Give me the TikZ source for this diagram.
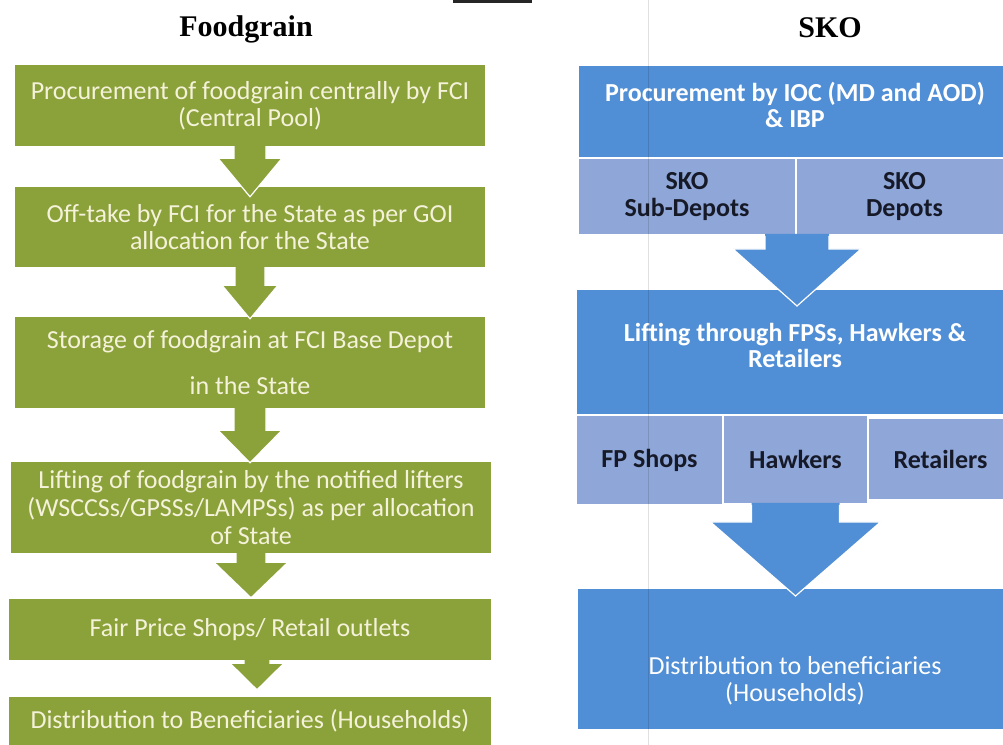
\documentclass[tikz,border=0pt]{standalone}
\usepackage{fontspec}
\setmainfont{Carlito}
\newfontfamily\headfont{Liberation Serif}
\usetikzlibrary{calc}

% block arrow from a point down to the top of a node
\newcommand{\blockarrow}[7]{%
  \fill[#1] ($(#2)+(-#4,2bp)$) -- ($(#2)+(-#4,-#5)$) -- ($(#2)+(-#6,-#5)$)
    -- ($(#2 |- #3.north)+(0bp,#7)$) -- ($(#2)+(#6,-#5)$) -- ($(#2)+(#4,-#5)$)
    -- ($(#2)+(#4,2bp)$) -- cycle;
  \draw[white,line width=1.2bp] ($(#2)+(-#4,0bp)$) -- ($(#2)+(-#4,-#5)$) -- ($(#2)+(-#6,-#5)$)
    -- ($(#2 |- #3.north)+(0bp,#7)$) -- ($(#2)+(#6,-#5)$) -- ($(#2)+(#4,-#5)$)
    -- ($(#2)+(#4,0bp)$);}

\begin{document}
\begin{tikzpicture}[line join=miter,
  grainbox/.style={fill=grainfill,rectangle,align=center,inner sep=0pt,text=graintext,font=\fontsize{26bp}{27bp}\selectfont},
  skobox/.style={draw=white,line width=2bp,fill=skofill,rectangle,inner sep=0pt},
  skosubbox/.style={draw=white,line width=2bp,fill=skosubfill,rectangle,align=center,inner sep=0pt,text=skosubtext,font=\fontsize{26bp}{27bp}\selectfont\bfseries},
  grainarrow/.style={fill=grainfill},
  skoarrow/.style={fill=skofill},
  heading/.style={anchor=base,font=\headfont\fontsize{30bp}{36bp}\selectfont\bfseries}]
\path[use as bounding box,clip] (0bp,0bp) rectangle (1003bp,745bp);
%%
  \definecolor{grainfill}{RGB}{139,161,58};
  \definecolor{graintext}{RGB}{245,242,218};
  \definecolor{skofill}{RGB}{80,142,213};
  \definecolor{skosubfill}{RGB}{143,166,216};
  \definecolor{skosubtext}{RGB}{22,26,40};
%% headings
  \node (foodhead) at (246bp,708bp) [heading] {Foodgrain};
  \node (skohead) at (830bp,707bp) [heading] {SKO};
  \draw [line width=3bp,black!85] (453bp,743bp) -- (532bp,743bp);
%% foodgrain chain
  \node (fg1) at (250bp,639.5bp) [grainbox,minimum width=470bp,minimum height=81bp] {Procurement of foodgrain centrally by FCI\\(Central Pool)};
  \node (fg2) at (250bp,518bp) [grainbox,minimum width=470bp,minimum height=80bp] {Off-take by FCI for the State as per GOI\\allocation for the State};
  \node (fg3) at (250bp,382.5bp) [grainbox,minimum width=470bp,minimum height=91bp] {Storage of foodgrain at FCI Base Depot\\[19bp]in the State};
  \node (fg4) at (251bp,237.5bp) [grainbox,minimum width=480bp,minimum height=91bp,font=\fontsize{26bp}{28bp}\selectfont] {Lifting of foodgrain by the notified lifters\\(WSCCSs/GPSSs/LAMPSs) as per allocation\\of State};
  \node (fg5) at (250bp,115.5bp) [grainbox,minimum width=482bp,minimum height=61bp] {Fair Price Shops/ Retail outlets};
  \node (fg6) at (250bp,24bp) [grainbox,minimum width=482bp,minimum height=48bp] {Distribution to Beneficiaries (Households)};
  \coordinate (a5) at ($(fg5.south)+(7bp,0bp)$);
  \blockarrow{grainarrow}{fg1.south}{fg2}{16bp}{12bp}{32bp}{-10bp}
  \blockarrow{grainarrow}{fg2.south}{fg3}{15bp}{18bp}{28bp}{-2bp}
  \blockarrow{grainarrow}{fg3.south}{fg4}{16bp}{22bp}{32bp}{-1bp}
  \blockarrow{grainarrow}{fg4.south}{fg5}{15bp}{9bp}{37bp}{1bp}
  \blockarrow{grainarrow}{a5}{fg6}{13bp}{3bp}{27bp}{7bp}
%% SKO chain
  \node (sk1) at (795.5bp,633.5bp) [skobox,minimum width=435bp,minimum height=93bp] {};
  \node (sk1txt) at (795bp,640bp) [align=center,text=white,font=\fontsize{26bp}{26bp}\selectfont\bfseries] {Procurement by IOC (MD and AOD)\\\& IBP};
  \node (sksub) at (687bp,548.5bp) [skosubbox,minimum width=218bp,minimum height=77bp] {SKO\\Sub-Depots};
  \node (skdep) at (904.5bp,548.5bp) [skosubbox,minimum width=217bp,minimum height=77bp] {SKO\\Depots};
  \node (sk2) at (794.5bp,393bp) [skobox,minimum width=437bp,minimum height=126bp] {};
  \node (sk2txt) at (795bp,400bp) [align=center,text=white,font=\fontsize{26bp}{26bp}\selectfont\bfseries] {Lifting through FPSs, Hawkers \&\\Retailers};
  \node (fps) at (649.5bp,285bp) [skosubbox,minimum width=147bp,minimum height=90bp] {FP Shops};
  \node (hawk) at (795.5bp,285.5bp) [skosubbox,minimum width=145bp,minimum height=89bp] {Hawkers};
  \node (ret) at (940.5bp,286bp) [skosubbox,minimum width=145bp,minimum height=82bp] {Retailers};
  \node (sk3) at (795bp,86bp) [skobox,minimum width=436bp,minimum height=142bp] {};
  \node (sk3txt) at (795bp,64bp) [align=center,text=white,font=\fontsize{26bp}{27bp}\selectfont] {Distribution to beneficiaries\\(Households)};
  \blockarrow{skoarrow}{sksub.south east}{sk2}{32bp}{13bp}{64bp}{-18bp}
  \blockarrow{skoarrow}{hawk.south}{sk3}{44bp}{17bp}{85bp}{-9bp}
%% scan line
  \draw [black,opacity=0.12,line width=1bp] (648bp,0bp) -- (648bp,745bp);
%
\end{tikzpicture}
\end{document}
